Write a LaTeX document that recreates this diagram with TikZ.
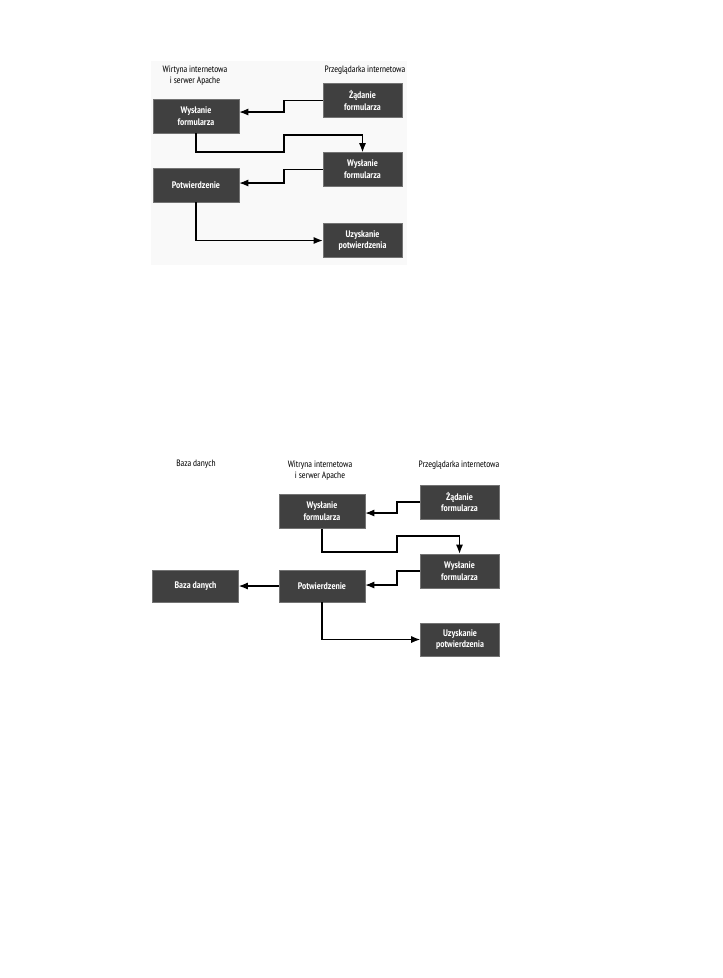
\documentclass[tikz,border=0pt]{standalone}
\usepackage{fontspec}
\setmainfont{PT Sans Narrow}
\usepackage{tikz}
\usetikzlibrary{
  arrows.meta,
  calc,
  positioning
}
\definecolor{panelgray}{gray}{0.975}
\definecolor{boxgray}{gray}{0.25}
\tikzset{
  stage/.style={
    rectangle,
    draw=black!55,
    fill=boxgray,
    line width=0.6pt,
    minimum width=86pt,
    minimum height=34pt,
    inner sep=1pt,
    align=center,
    text=white,
    font=\fontsize{9.5}{11.7}\selectfont\bfseries
  }
}
\tikzset{
  browser stage/.style={
    stage,
    minimum width=79pt
  }
}
\tikzset{
  column head/.style={
    align=center,
    inner sep=0pt,
    font=\fontsize{9.2}{10.7}\selectfont
  }
}
\tikzset{
  flow/.style={
    -{Latex[length=9pt,width=7pt]},
    draw=black,
    line width=1.1pt
  }
}

\begin{document}
\begin{tikzpicture}[x=1pt,y=-1pt]

    \useasboundingbox (0,0) rectangle (723,978);

    % ------------------------------------------------------------
    % Upper panel
    % ------------------------------------------------------------

    \fill[panelgray] (151,61) rectangle (407,265);

    \node[column head] (hA1) at (195,75.5)
    {Wirtyna internetowa\\i serwer Apache};

    \node[column head] (hA2) at (365,70)
    {Przeglądarka internetowa};

    \node[stage] (wysA) at (196,116)
    {Wysłanie\\formularza};

    \node[browser stage] (zadA) at (362.5,100.5)
    {Żądanie\\formularza};

    \node[browser stage] (wysB) at (362.5,169.5)
    {Wysłanie\\formularza};

    \node[stage] (potA) at (196,185)
    {Potwierdzenie};

    \node[browser stage] (uzyA) at (362.5,240.5)
    {Uzyskanie\\potwierdzenia};

    \coordinate (tA1) at (284,112);
    \coordinate (tA2) at (284,152);
    \coordinate (tA3) at (284,135);
    \coordinate (tA4) at (284,183);

    \draw[flow]
      (zadA.west) -| (tA1)
      -- (tA1 -| wysA.east);

    \draw[flow]
      (wysA.south) |- (tA2)
      -- (tA3)
      -| (wysB.north);

    \draw[flow]
      (wysB.west) -| (tA4)
      -- (tA4 -| potA.east);

    \draw[flow]
      (potA.south) |- (uzyA.west);

    % ------------------------------------------------------------
    % Lower panel
    % ------------------------------------------------------------

    \node[column head] (hC1) at (196,464)
    {Baza danych};

    \node[column head] (hC2) at (320,470.5)
    {Witryna internetowa\\i serwer Apache};

    \node[column head] (hC3) at (459,465)
    {Przeglądarka internetowa};

    \node[stage] (wysC) at (322,511.5)
    {Wysłanie\\formularza};

    \node[browser stage] (zadC) at (459.5,502)
    {Żądanie\\formularza};

    \node[browser stage] (wysD) at (459.5,571)
    {Wysłanie\\formularza};

    \node[stage,minimum height=32pt] (bazaD) at (195.5,586)
    {Baza danych};

    \node[stage,minimum height=32pt] (potD) at (322,586)
    {Potwierdzenie};

    \node[browser stage,minimum height=33pt] (uzyD) at (460,639.5)
    {Uzyskanie\\potwierdzenia};

    \coordinate (tC1) at (397,513);
    \coordinate (tC2) at (397,552);
    \coordinate (tC3) at (397,536);
    \coordinate (tC4) at (397,585);

    \draw[flow]
      (zadC.west) -| (tC1)
      -- (tC1 -| wysC.east);

    \draw[flow]
      (wysC.south) |- (tC2)
      -- (tC3)
      -| (wysD.north);

    \draw[flow]
      (wysD.west) -| (tC4)
      -- (tC4 -| potD.east);

    \draw[flow]
      (potD.west) -- (bazaD.east);

    \draw[flow]
      (potD.south) |- (uzyD.west);

\end{tikzpicture}
\end{document}
